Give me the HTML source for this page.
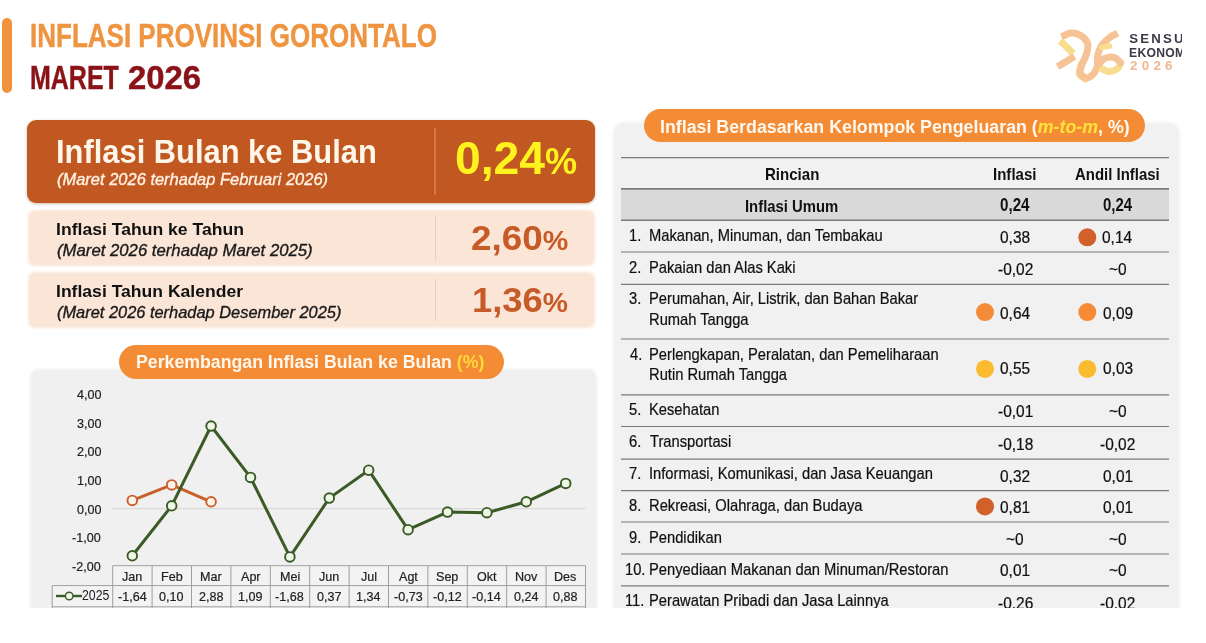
<!DOCTYPE html>
<html lang="id"><head><meta charset="utf-8"><title>Inflasi Provinsi Gorontalo Maret 2026</title>
<style>
html,body{margin:0;padding:0;background:#fff}
#page{position:relative;width:1182px;height:607.5px;overflow:hidden;background:#fff;font-family:"Liberation Sans",sans-serif}
.t{position:absolute;white-space:nowrap;line-height:1;transform-origin:0 0;display:block}
.b{position:absolute}
svg{position:absolute;left:0;top:0}
</style></head><body>
<div id="page">
<div class="b" style="left:2px;top:17.5px;width:10px;height:75.5px;border-radius:5px;background:#F0923E"></div>
<!-- boxes -->
<div class="b" style="left:27px;top:120px;width:568px;height:83.3px;border-radius:9px;background:#C25821;box-shadow:0 1px 3px rgba(120,60,20,.35)"></div>
<div class="b" style="left:434.2px;top:127.5px;width:1.7px;height:67px;background:#DA7646"></div>
<div class="b" style="left:29.5px;top:212px;width:563px;height:52.2px;border-radius:5px;background:#FBE5D7;box-shadow:0 0 3px 1.5px #FBE5D7"></div>
<div class="b" style="left:434.5px;top:216px;width:1.2px;height:44px;background:#EBCDBB"></div>
<div class="b" style="left:29.5px;top:274.1px;width:563px;height:52.3px;border-radius:5px;background:#FBE5D7;box-shadow:0 0 3px 1.5px #FBE5D7"></div>
<div class="b" style="left:434.5px;top:279px;width:1.2px;height:42px;background:#EBCDBB"></div>
<!-- panels -->
<div class="b" style="left:32px;top:371px;width:563px;height:260px;border-radius:7px;background:#F0F0F0;box-shadow:0 0 3px 1.5px #F0F0F0"></div>
<div class="b" style="left:615px;top:123.5px;width:562.5px;height:520px;border-radius:10px;background:#F1F1F1;box-shadow:0 0 3px 1.5px #F1F1F1"></div>
<!-- pills -->
<div class="b" style="left:118.5px;top:345px;width:385.5px;height:33.5px;border-radius:17px;background:#F48C36"></div>
<div class="b" style="left:643.5px;top:108.7px;width:501.5px;height:33.6px;border-radius:17px;background:#F48C36"></div>
<svg width="1182" height="608" viewBox="0 0 1182 608">
<line x1="112.7" y1="508.7" x2="585.5" y2="508.7" stroke="#d4d4d4" stroke-width="1"/>
<rect x="112.7" y="565.7" width="472.8" height="41.6" fill="#f3f3f3"/>
<rect x="52.2" y="585.6" width="60.5" height="21.7" fill="#f3f3f3"/>
<line x1="112.7" y1="565.7" x2="112.7" y2="608" stroke="#9e9e9e" stroke-width="1"/>
<line x1="152.1" y1="565.7" x2="152.1" y2="608" stroke="#9e9e9e" stroke-width="1"/>
<line x1="191.5" y1="565.7" x2="191.5" y2="608" stroke="#9e9e9e" stroke-width="1"/>
<line x1="230.9" y1="565.7" x2="230.9" y2="608" stroke="#9e9e9e" stroke-width="1"/>
<line x1="270.3" y1="565.7" x2="270.3" y2="608" stroke="#9e9e9e" stroke-width="1"/>
<line x1="309.7" y1="565.7" x2="309.7" y2="608" stroke="#9e9e9e" stroke-width="1"/>
<line x1="349.1" y1="565.7" x2="349.1" y2="608" stroke="#9e9e9e" stroke-width="1"/>
<line x1="388.5" y1="565.7" x2="388.5" y2="608" stroke="#9e9e9e" stroke-width="1"/>
<line x1="427.9" y1="565.7" x2="427.9" y2="608" stroke="#9e9e9e" stroke-width="1"/>
<line x1="467.3" y1="565.7" x2="467.3" y2="608" stroke="#9e9e9e" stroke-width="1"/>
<line x1="506.7" y1="565.7" x2="506.7" y2="608" stroke="#9e9e9e" stroke-width="1"/>
<line x1="546.1" y1="565.7" x2="546.1" y2="608" stroke="#9e9e9e" stroke-width="1"/>
<line x1="585.5" y1="565.7" x2="585.5" y2="608" stroke="#9e9e9e" stroke-width="1"/>
<line x1="112.7" y1="565.7" x2="585.5" y2="565.7" stroke="#9e9e9e" stroke-width="1"/>
<line x1="52.2" y1="585.6" x2="585.5" y2="585.6" stroke="#9e9e9e" stroke-width="1"/>
<line x1="52.2" y1="606.8" x2="585.5" y2="606.8" stroke="#9e9e9e" stroke-width="1"/>
<line x1="52.2" y1="585.6" x2="52.2" y2="608" stroke="#9e9e9e" stroke-width="1"/>
<polyline points="132.3,500.4 171.7,484.9 211.1,501.8" fill="none" stroke="#C8602B" stroke-width="3" stroke-linejoin="round"/>
<polyline points="132.3,555.8 171.7,505.8 211.1,426.0 250.5,477.4 289.9,556.9 329.3,498.1 368.7,470.2 408.1,529.7 447.5,512.1 486.9,512.7 526.3,501.8 565.7,483.4" fill="none" stroke="#3B5B26" stroke-width="3" stroke-linejoin="round"/>
<circle cx="132.3" cy="500.4" r="4.8" fill="#fdf3ec" stroke="#C8602B" stroke-width="1.9"/>
<circle cx="171.7" cy="484.9" r="4.8" fill="#fdf3ec" stroke="#C8602B" stroke-width="1.9"/>
<circle cx="211.1" cy="501.8" r="4.8" fill="#fdf3ec" stroke="#C8602B" stroke-width="1.9"/>
<circle cx="132.3" cy="555.8" r="4.8" fill="#eef6e6" stroke="#3B5B26" stroke-width="1.9"/>
<circle cx="171.7" cy="505.8" r="4.8" fill="#eef6e6" stroke="#3B5B26" stroke-width="1.9"/>
<circle cx="211.1" cy="426.0" r="4.8" fill="#eef6e6" stroke="#3B5B26" stroke-width="1.9"/>
<circle cx="250.5" cy="477.4" r="4.8" fill="#eef6e6" stroke="#3B5B26" stroke-width="1.9"/>
<circle cx="289.9" cy="556.9" r="4.8" fill="#eef6e6" stroke="#3B5B26" stroke-width="1.9"/>
<circle cx="329.3" cy="498.1" r="4.8" fill="#eef6e6" stroke="#3B5B26" stroke-width="1.9"/>
<circle cx="368.7" cy="470.2" r="4.8" fill="#eef6e6" stroke="#3B5B26" stroke-width="1.9"/>
<circle cx="408.1" cy="529.7" r="4.8" fill="#eef6e6" stroke="#3B5B26" stroke-width="1.9"/>
<circle cx="447.5" cy="512.1" r="4.8" fill="#eef6e6" stroke="#3B5B26" stroke-width="1.9"/>
<circle cx="486.9" cy="512.7" r="4.8" fill="#eef6e6" stroke="#3B5B26" stroke-width="1.9"/>
<circle cx="526.3" cy="501.8" r="4.8" fill="#eef6e6" stroke="#3B5B26" stroke-width="1.9"/>
<circle cx="565.7" cy="483.4" r="4.8" fill="#eef6e6" stroke="#3B5B26" stroke-width="1.9"/>
<line x1="56" y1="596" x2="82" y2="596" stroke="#3B5B26" stroke-width="2.4"/>
<circle cx="69.2" cy="596" r="3.8" fill="#eef6e6" stroke="#3B5B26" stroke-width="1.4"/>
<rect x="621" y="189.5" width="548" height="30.5" fill="#d9d9d9"/>
<line x1="621" y1="157.7" x2="1169" y2="157.7" stroke="#7a7a7a" stroke-width="1.2"/>
<line x1="621" y1="188.8" x2="1169" y2="188.8" stroke="#7a7a7a" stroke-width="1.8"/>
<line x1="621" y1="220.2" x2="1169" y2="220.2" stroke="#7a7a7a" stroke-width="1.4"/>
<line x1="621" y1="252.0" x2="1169" y2="252.0" stroke="#7a7a7a" stroke-width="1.2"/>
<line x1="621" y1="284.3" x2="1169" y2="284.3" stroke="#7a7a7a" stroke-width="1.2"/>
<line x1="621" y1="339.0" x2="1169" y2="339.0" stroke="#7a7a7a" stroke-width="1.2"/>
<line x1="621" y1="394.8" x2="1169" y2="394.8" stroke="#7a7a7a" stroke-width="1.2"/>
<line x1="621" y1="426.5" x2="1169" y2="426.5" stroke="#7a7a7a" stroke-width="1.2"/>
<line x1="621" y1="459.1" x2="1169" y2="459.1" stroke="#7a7a7a" stroke-width="1.2"/>
<line x1="621" y1="490.7" x2="1169" y2="490.7" stroke="#7a7a7a" stroke-width="1.2"/>
<line x1="621" y1="522.0" x2="1169" y2="522.0" stroke="#7a7a7a" stroke-width="1.2"/>
<line x1="621" y1="554.0" x2="1169" y2="554.0" stroke="#7a7a7a" stroke-width="1.2"/>
<line x1="621" y1="585.8" x2="1169" y2="585.8" stroke="#7a7a7a" stroke-width="1.2"/>
<circle cx="1087.3" cy="237.3" r="9" fill="#D1602B"/>
<circle cx="985.0" cy="312.1" r="9" fill="#F58B37"/>
<circle cx="1087.3" cy="312.1" r="9" fill="#F58B37"/>
<circle cx="985.0" cy="368.9" r="9" fill="#FBBB2E"/>
<circle cx="1087.3" cy="368.9" r="9" fill="#FBBB2E"/>
<circle cx="985.0" cy="506.4" r="9" fill="#D1602B"/>

<g fill="none" stroke-linejoin="round">
<path d="M1081.3 64.8 C1081.1 66.3 1079.0 71.4 1079.6 73.7 C1080.3 76.1 1084.4 77.9 1085.3 78.7" stroke="#F9DD8E" stroke-width="7.5" stroke-linecap="round"/>
<path d="M1061.4 36.9 C1063.0 36.3 1067.7 33.4 1070.9 33.1 C1074.1 32.9 1078.0 33.7 1080.8 35.4 C1083.6 37.1 1086.6 40.3 1087.6 43.4 C1088.6 46.5 1087.5 50.4 1086.6 53.8 C1085.7 57.3 1083.1 61.1 1082.0 64.3 C1081.0 67.5 1079.5 71.0 1080.3 73.2 C1081.1 75.5 1084.5 77.9 1086.8 77.9 C1089.1 77.9 1092.2 75.3 1094.0 73.2 C1095.7 71.2 1096.7 68.8 1097.4 65.8 C1098.0 62.8 1097.0 58.7 1097.8 55.3 C1098.5 51.9 1099.7 48.4 1101.7 45.4 C1103.7 42.4 1107.0 39.5 1109.7 37.4 C1112.3 35.4 1116.3 33.9 1117.7 33.1" stroke="#F6C396" stroke-width="7.0" stroke-linecap="butt"/>
<path d="M1059.9 41.1 C1061.1 42.1 1064.7 45.0 1066.9 47.1 C1069.1 49.2 1071.9 52.5 1072.9 53.6" stroke="#F9DD8E" stroke-width="7.0" stroke-linecap="butt"/>
<path d="M1074.4 56.3 C1073.0 57.2 1068.7 60.1 1065.9 61.8 C1063.1 63.5 1058.9 65.8 1057.5 66.6" stroke="#F6C396" stroke-width="7.0" stroke-linecap="butt"/>
<path d="M1102.2 68.8 C1103.3 69.2 1106.1 71.6 1108.7 71.6 C1111.3 71.5 1115.7 70.0 1117.7 68.6 C1119.6 67.1 1120.1 63.8 1120.6 62.8" stroke="#F9DD8E" stroke-width="7.0" stroke-linecap="round"/>
<path d="M1097.8 64.8 C1099.0 63.7 1102.4 59.5 1105.2 58.3 C1108.0 57.1 1112.1 56.9 1114.7 57.6 C1117.2 58.4 1119.6 61.9 1120.6 62.8" stroke="#F6C396" stroke-width="7.0" stroke-linecap="round"/>
<path d="M1101.7 47.4 C1103.0 47.2 1108.2 46.3 1109.5 46.1" stroke="#F9DD8E" stroke-width="5.5" stroke-linecap="round"/>
</g>
</svg>
<span class="t" style="left:29.72px;top:19.88px;font-size:32.85px;font-weight:bold;color:#EF9440;transform:scaleX(0.7920);-webkit-text-stroke:0.45px #EF9440;">INFLASI PROVINSI GORONTALO</span>
<span class="t" style="left:29.78px;top:62.38px;font-size:32.85px;font-weight:bold;color:#8A1318;transform:scaleX(0.7609);-webkit-text-stroke:0.45px #8A1318;">MARET</span>
<span class="t" style="left:128.00px;top:62.38px;font-size:32.85px;font-weight:bold;color:#8A1318;-webkit-text-stroke:0.45px #8A1318;">2026</span>
<span class="t" style="left:55.82px;top:135.68px;font-size:32.85px;font-weight:bold;color:#FFF6EA;transform:scaleX(0.9404);">Inflasi Bulan ke Bulan</span>
<span class="t" style="left:56.90px;top:171.71px;font-size:15.99px;font-style:italic;color:#FFF1E2;transform:scaleX(1.0305);-webkit-text-stroke:0.35px #FFF1E2;">(Maret 2026 terhadap Februari 2026)</span>
<span class="t" style="left:455.21px;top:134.67px;font-size:46.51px;font-weight:bold;color:#FFF21F;transform:scaleX(0.9950);">0,24<span style="font-size:78%">%</span></span>
<span class="t" style="left:56.48px;top:220.90px;font-size:17.30px;font-weight:bold;color:#111;transform:scaleX(1.0180);">Inflasi Tahun ke Tahun</span>
<span class="t" style="left:56.90px;top:243.22px;font-size:16.57px;font-style:italic;color:#1a1a1a;transform:scaleX(1.0099);-webkit-text-stroke:0.35px #1a1a1a;">(Maret 2026 terhadap Maret 2025)</span>
<span class="t" style="left:470.54px;top:220.85px;font-size:34.88px;font-weight:bold;color:#C65B27;transform:scaleX(1.0556);">2,60<span style="font-size:78%">%</span></span>
<span class="t" style="left:56.48px;top:282.90px;font-size:17.30px;font-weight:bold;color:#111;transform:scaleX(1.0164);">Inflasi Tahun Kalender</span>
<span class="t" style="left:56.90px;top:305.42px;font-size:16.57px;font-style:italic;color:#1a1a1a;transform:scaleX(0.9899);-webkit-text-stroke:0.35px #1a1a1a;">(Maret 2026 terhadap Desember 2025)</span>
<span class="t" style="left:471.51px;top:282.75px;font-size:34.88px;font-weight:bold;color:#C65B27;transform:scaleX(1.0438);">1,36<span style="font-size:78%">%</span></span>
<span class="t" style="left:136.28px;top:354.47px;font-size:17.44px;font-weight:bold;color:#FFF8EE;transform:scaleX(1.0155);">Perkembangan Inflasi Bulan ke Bulan <span style="color:#FFD83A">(%)</span></span>
<span class="t" style="left:77.00px;top:387.88px;font-size:13.37px;color:#222;transform:scaleX(0.9400);-webkit-text-stroke:0.22px #222;">4,00</span>
<span class="t" style="left:77.00px;top:416.58px;font-size:13.37px;color:#222;transform:scaleX(0.9400);-webkit-text-stroke:0.22px #222;">3,00</span>
<span class="t" style="left:77.00px;top:445.28px;font-size:13.37px;color:#222;transform:scaleX(0.9400);-webkit-text-stroke:0.22px #222;">2,00</span>
<span class="t" style="left:77.00px;top:473.98px;font-size:13.37px;color:#222;transform:scaleX(0.9400);-webkit-text-stroke:0.22px #222;">1,00</span>
<span class="t" style="left:77.00px;top:502.68px;font-size:13.37px;color:#222;transform:scaleX(0.9400);-webkit-text-stroke:0.22px #222;">0,00</span>
<span class="t" style="left:72.30px;top:531.38px;font-size:13.37px;color:#222;transform:scaleX(0.9400);-webkit-text-stroke:0.22px #222;">-1,00</span>
<span class="t" style="left:72.30px;top:560.08px;font-size:13.37px;color:#222;transform:scaleX(0.9400);-webkit-text-stroke:0.22px #222;">-2,00</span>
<span class="t" style="left:121.96px;top:570.03px;font-size:13.37px;color:#222;transform:scaleX(0.9400);-webkit-text-stroke:0.22px #222;">Jan</span>
<span class="t" style="left:117.73px;top:589.63px;font-size:13.37px;color:#222;transform:scaleX(0.9400);-webkit-text-stroke:0.22px #222;">-1,64</span>
<span class="t" style="left:160.89px;top:570.03px;font-size:13.37px;color:#222;transform:scaleX(0.9400);-webkit-text-stroke:0.22px #222;">Feb</span>
<span class="t" style="left:159.48px;top:589.63px;font-size:13.37px;color:#222;transform:scaleX(0.9400);-webkit-text-stroke:0.22px #222;">0,10</span>
<span class="t" style="left:199.82px;top:570.03px;font-size:13.37px;color:#222;transform:scaleX(0.9400);-webkit-text-stroke:0.22px #222;">Mar</span>
<span class="t" style="left:198.88px;top:589.63px;font-size:13.37px;color:#222;transform:scaleX(0.9400);-webkit-text-stroke:0.22px #222;">2,88</span>
<span class="t" style="left:240.63px;top:570.03px;font-size:13.37px;color:#222;transform:scaleX(0.9400);-webkit-text-stroke:0.22px #222;">Apr</span>
<span class="t" style="left:238.28px;top:589.63px;font-size:13.37px;color:#222;transform:scaleX(0.9400);-webkit-text-stroke:0.22px #222;">1,09</span>
<span class="t" style="left:279.56px;top:570.03px;font-size:13.37px;color:#222;transform:scaleX(0.9400);-webkit-text-stroke:0.22px #222;">Mei</span>
<span class="t" style="left:275.33px;top:589.63px;font-size:13.37px;color:#222;transform:scaleX(0.9400);-webkit-text-stroke:0.22px #222;">-1,68</span>
<span class="t" style="left:318.96px;top:570.03px;font-size:13.37px;color:#222;transform:scaleX(0.9400);-webkit-text-stroke:0.22px #222;">Jun</span>
<span class="t" style="left:317.08px;top:589.63px;font-size:13.37px;color:#222;transform:scaleX(0.9400);-webkit-text-stroke:0.22px #222;">0,37</span>
<span class="t" style="left:360.71px;top:570.03px;font-size:13.37px;color:#222;transform:scaleX(0.9400);-webkit-text-stroke:0.22px #222;">Jul</span>
<span class="t" style="left:356.01px;top:589.63px;font-size:13.37px;color:#222;transform:scaleX(0.9400);-webkit-text-stroke:0.22px #222;">1,34</span>
<span class="t" style="left:398.70px;top:570.03px;font-size:13.37px;color:#222;transform:scaleX(0.9400);-webkit-text-stroke:0.22px #222;">Agt</span>
<span class="t" style="left:393.53px;top:589.63px;font-size:13.37px;color:#222;transform:scaleX(0.9400);-webkit-text-stroke:0.22px #222;">-0,73</span>
<span class="t" style="left:436.22px;top:570.03px;font-size:13.37px;color:#222;transform:scaleX(0.9400);-webkit-text-stroke:0.22px #222;">Sep</span>
<span class="t" style="left:432.93px;top:589.63px;font-size:13.37px;color:#222;transform:scaleX(0.9400);-webkit-text-stroke:0.22px #222;">-0,12</span>
<span class="t" style="left:476.56px;top:570.03px;font-size:13.37px;color:#222;transform:scaleX(0.9400);-webkit-text-stroke:0.22px #222;">Okt</span>
<span class="t" style="left:472.33px;top:589.63px;font-size:13.37px;color:#222;transform:scaleX(0.9400);-webkit-text-stroke:0.22px #222;">-0,14</span>
<span class="t" style="left:515.02px;top:570.03px;font-size:13.37px;color:#222;transform:scaleX(0.9400);-webkit-text-stroke:0.22px #222;">Nov</span>
<span class="t" style="left:513.61px;top:589.63px;font-size:13.37px;color:#222;transform:scaleX(0.9400);-webkit-text-stroke:0.22px #222;">0,24</span>
<span class="t" style="left:554.42px;top:570.03px;font-size:13.37px;color:#222;transform:scaleX(0.9400);-webkit-text-stroke:0.22px #222;">Des</span>
<span class="t" style="left:553.48px;top:589.63px;font-size:13.37px;color:#222;transform:scaleX(0.9400);-webkit-text-stroke:0.22px #222;">0,88</span>
<span class="t" style="left:81.91px;top:589.26px;font-size:13.81px;color:#222;transform:scaleX(0.8931);">2025</span>
<span class="t" style="left:659.98px;top:118.57px;font-size:17.44px;font-weight:bold;color:#FFF8EE;transform:scaleX(1.0205);">Inflasi Berdasarkan Kelompok Pengeluaran (<span style="color:#FFE23A;font-style:italic">m-to-m</span>, %)</span>
<span class="t" style="left:765.32px;top:165.55px;font-size:17.01px;font-weight:bold;color:#111;transform:scaleX(0.8847);">Rincian</span>
<span class="t" style="left:993.11px;top:165.55px;font-size:17.01px;font-weight:bold;color:#111;transform:scaleX(0.8851);">Inflasi</span>
<span class="t" style="left:1075.12px;top:165.55px;font-size:17.01px;font-weight:bold;color:#111;transform:scaleX(0.8798);">Andil Inflasi</span>
<span class="t" style="left:745.43px;top:197.55px;font-size:17.01px;font-weight:bold;color:#111;transform:scaleX(0.8733);">Inflasi Umum</span>
<span class="t" style="left:999.83px;top:197.47px;font-size:17.44px;font-weight:bold;color:#111;transform:scaleX(0.8697);">0,24</span>
<span class="t" style="left:1102.64px;top:197.47px;font-size:17.44px;font-weight:bold;color:#111;transform:scaleX(0.8576);">0,24</span>
<span class="t" style="left:629.01px;top:228.22px;font-size:16.57px;color:#111;transform:scaleX(0.8886);-webkit-text-stroke:0.22px #111;">1.</span>
<span class="t" style="left:648.91px;top:228.22px;font-size:16.57px;color:#111;transform:scaleX(0.8886);-webkit-text-stroke:0.22px #111;">Makanan, Minuman, dan Tembakau</span>
<span class="t" style="left:1000.37px;top:230.12px;font-size:16.57px;color:#111;transform:scaleX(0.9333);-webkit-text-stroke:0.22px #111;">0,38</span>
<span class="t" style="left:1102.20px;top:230.12px;font-size:16.57px;color:#111;transform:scaleX(0.9333);-webkit-text-stroke:0.22px #111;">0,14</span>
<span class="t" style="left:629.01px;top:259.52px;font-size:16.57px;color:#111;transform:scaleX(0.8886);-webkit-text-stroke:0.22px #111;">2.</span>
<span class="t" style="left:648.91px;top:259.52px;font-size:16.57px;color:#111;transform:scaleX(0.8886);-webkit-text-stroke:0.22px #111;">Pakaian dan Alas Kaki</span>
<span class="t" style="left:997.57px;top:262.32px;font-size:16.57px;color:#111;transform:scaleX(0.9333);-webkit-text-stroke:0.22px #111;">-0,02</span>
<span class="t" style="left:1108.73px;top:262.32px;font-size:16.57px;color:#111;transform:scaleX(0.9333);-webkit-text-stroke:0.22px #111;">~0</span>
<span class="t" style="left:629.01px;top:291.12px;font-size:16.57px;color:#111;transform:scaleX(0.8886);-webkit-text-stroke:0.22px #111;">3.</span>
<span class="t" style="left:648.91px;top:291.12px;font-size:16.57px;color:#111;transform:scaleX(0.8886);-webkit-text-stroke:0.22px #111;">Perumahan, Air, Listrik, dan Bahan Bakar</span>
<span class="t" style="left:648.91px;top:312.22px;font-size:16.57px;color:#111;transform:scaleX(0.8886);-webkit-text-stroke:0.22px #111;">Rumah Tangga</span>
<span class="t" style="left:999.90px;top:305.92px;font-size:16.57px;color:#111;transform:scaleX(0.9333);-webkit-text-stroke:0.22px #111;">0,64</span>
<span class="t" style="left:1102.67px;top:305.92px;font-size:16.57px;color:#111;transform:scaleX(0.9333);-webkit-text-stroke:0.22px #111;">0,09</span>
<span class="t" style="left:629.90px;top:346.52px;font-size:16.57px;color:#111;transform:scaleX(0.8886);-webkit-text-stroke:0.22px #111;">4.</span>
<span class="t" style="left:648.91px;top:346.52px;font-size:16.57px;color:#111;transform:scaleX(0.8886);-webkit-text-stroke:0.22px #111;">Perlengkapan, Peralatan, dan Pemeliharaan</span>
<span class="t" style="left:648.91px;top:367.22px;font-size:16.57px;color:#111;transform:scaleX(0.8886);-webkit-text-stroke:0.22px #111;">Rutin Rumah Tangga</span>
<span class="t" style="left:1000.37px;top:361.32px;font-size:16.57px;color:#111;transform:scaleX(0.9333);-webkit-text-stroke:0.22px #111;">0,55</span>
<span class="t" style="left:1102.67px;top:361.32px;font-size:16.57px;color:#111;transform:scaleX(0.9333);-webkit-text-stroke:0.22px #111;">0,03</span>
<span class="t" style="left:629.01px;top:401.92px;font-size:16.57px;color:#111;transform:scaleX(0.8886);-webkit-text-stroke:0.22px #111;">5.</span>
<span class="t" style="left:648.91px;top:401.92px;font-size:16.57px;color:#111;transform:scaleX(0.8886);-webkit-text-stroke:0.22px #111;">Kesehatan</span>
<span class="t" style="left:997.57px;top:404.12px;font-size:16.57px;color:#111;transform:scaleX(0.9333);-webkit-text-stroke:0.22px #111;">-0,01</span>
<span class="t" style="left:1108.73px;top:404.12px;font-size:16.57px;color:#111;transform:scaleX(0.9333);-webkit-text-stroke:0.22px #111;">~0</span>
<span class="t" style="left:629.01px;top:433.52px;font-size:16.57px;color:#111;transform:scaleX(0.8886);-webkit-text-stroke:0.22px #111;">6.</span>
<span class="t" style="left:649.80px;top:433.52px;font-size:16.57px;color:#111;transform:scaleX(0.8886);-webkit-text-stroke:0.22px #111;">Transportasi</span>
<span class="t" style="left:997.57px;top:436.72px;font-size:16.57px;color:#111;transform:scaleX(0.9333);-webkit-text-stroke:0.22px #111;">-0,18</span>
<span class="t" style="left:1099.87px;top:436.72px;font-size:16.57px;color:#111;transform:scaleX(0.9333);-webkit-text-stroke:0.22px #111;">-0,02</span>
<span class="t" style="left:629.01px;top:465.92px;font-size:16.57px;color:#111;transform:scaleX(0.8886);-webkit-text-stroke:0.22px #111;">7.</span>
<span class="t" style="left:648.91px;top:465.92px;font-size:16.57px;color:#111;transform:scaleX(0.8886);-webkit-text-stroke:0.22px #111;">Informasi, Komunikasi, dan Jasa Keuangan</span>
<span class="t" style="left:1000.37px;top:468.82px;font-size:16.57px;color:#111;transform:scaleX(0.9333);-webkit-text-stroke:0.22px #111;">0,32</span>
<span class="t" style="left:1102.67px;top:468.82px;font-size:16.57px;color:#111;transform:scaleX(0.9333);-webkit-text-stroke:0.22px #111;">0,01</span>
<span class="t" style="left:629.01px;top:497.72px;font-size:16.57px;color:#111;transform:scaleX(0.8886);-webkit-text-stroke:0.22px #111;">8.</span>
<span class="t" style="left:648.91px;top:497.72px;font-size:16.57px;color:#111;transform:scaleX(0.8886);-webkit-text-stroke:0.22px #111;">Rekreasi, Olahraga, dan Budaya</span>
<span class="t" style="left:1000.37px;top:500.12px;font-size:16.57px;color:#111;transform:scaleX(0.9333);-webkit-text-stroke:0.22px #111;">0,81</span>
<span class="t" style="left:1102.67px;top:500.12px;font-size:16.57px;color:#111;transform:scaleX(0.9333);-webkit-text-stroke:0.22px #111;">0,01</span>
<span class="t" style="left:629.01px;top:529.92px;font-size:16.57px;color:#111;transform:scaleX(0.8886);-webkit-text-stroke:0.22px #111;">9.</span>
<span class="t" style="left:648.91px;top:529.92px;font-size:16.57px;color:#111;transform:scaleX(0.8886);-webkit-text-stroke:0.22px #111;">Pendidikan</span>
<span class="t" style="left:1006.13px;top:531.82px;font-size:16.57px;color:#111;transform:scaleX(0.9333);-webkit-text-stroke:0.22px #111;">~0</span>
<span class="t" style="left:1108.73px;top:531.82px;font-size:16.57px;color:#111;transform:scaleX(0.9333);-webkit-text-stroke:0.22px #111;">~0</span>
<span class="t" style="left:624.71px;top:561.82px;font-size:16.57px;color:#111;transform:scaleX(0.8886);-webkit-text-stroke:0.22px #111;">10.</span>
<span class="t" style="left:648.91px;top:561.82px;font-size:16.57px;color:#111;transform:scaleX(0.8886);-webkit-text-stroke:0.22px #111;">Penyediaan Makanan dan Minuman/Restoran</span>
<span class="t" style="left:1000.37px;top:563.32px;font-size:16.57px;color:#111;transform:scaleX(0.9333);-webkit-text-stroke:0.22px #111;">0,01</span>
<span class="t" style="left:1108.73px;top:563.32px;font-size:16.57px;color:#111;transform:scaleX(0.9333);-webkit-text-stroke:0.22px #111;">~0</span>
<span class="t" style="left:624.71px;top:592.92px;font-size:16.57px;color:#111;transform:scaleX(0.8886);-webkit-text-stroke:0.22px #111;">11.</span>
<span class="t" style="left:648.91px;top:592.92px;font-size:16.57px;color:#111;transform:scaleX(0.8886);-webkit-text-stroke:0.22px #111;">Perawatan Pribadi dan Jasa Lainnya</span>
<span class="t" style="left:997.57px;top:595.82px;font-size:16.57px;color:#111;transform:scaleX(0.9333);-webkit-text-stroke:0.22px #111;">-0,26</span>
<span class="t" style="left:1099.87px;top:595.82px;font-size:16.57px;color:#111;transform:scaleX(0.9333);-webkit-text-stroke:0.22px #111;">-0,02</span>
<span class="t" style="left:1129.30px;top:32.36px;font-size:13.23px;font-weight:bold;color:#3a3a46;letter-spacing:2.2px;">SENSUS</span>
<span class="t" style="left:1129.38px;top:46.06px;font-size:13.23px;font-weight:bold;color:#3a3a46;transform:scaleX(0.9200);letter-spacing:0.3px;">EKONOMI</span>
<span class="t" style="left:1130.30px;top:60.33px;font-size:12.79px;font-weight:bold;color:#F1B88E;transform:scaleX(1.0525);letter-spacing:4px;">2026</span>
</div>
</body></html>
